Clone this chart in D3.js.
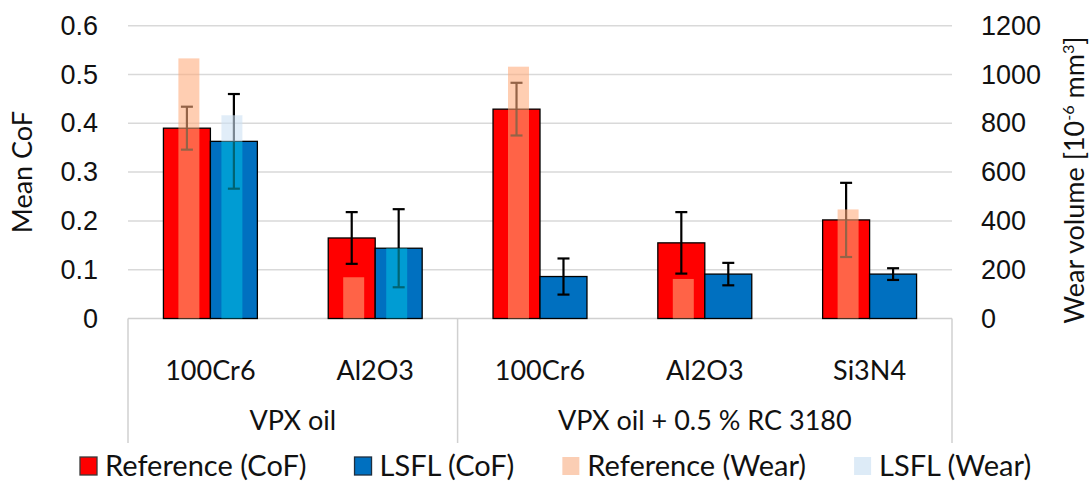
<!doctype html>
<meta charset='utf-8'>
<title>CoF and wear</title>
<style type="text/css">
	body { margin:0; background:#fff; }
	svg { display:block; font-family:Lato, 'Open Sans', sans-serif; }
	.grid line { stroke:#d9d9d9; stroke-width:1.5px; }
	.frame { stroke:#d0d0d0; stroke-width:1.5px; fill:none; }
	text { fill:#111; }
</style>
<div id='chart'></div>
<script src="https://cdnjs.cloudflare.com/ajax/libs/d3/7.8.5/d3.min.js" charset="utf-8"></script>
<script>

	// values
	var groups     = ['VPX oil', 'VPX oil + 0.5 % RC 3180']
	var materials  = ['100Cr6', 'Al2O3', '100Cr6', 'Al2O3', 'Si3N4']
	var groupOf    = [0, 0, 1, 1, 1]
	var refCoF     = [0.390, 0.165, 0.429, 0.155, 0.202]
	var refCoFErr  = [0.044, 0.053, 0.054, 0.063, 0.076]
	var lsflCoF    = [0.363, 0.144, 0.086, 0.091, 0.091]
	var lsflCoFErr = [0.097, 0.080, 0.037, 0.023, 0.012]
	var refWear    = [1066, 169, 1032, 162, 447]
	var lsflWear   = [833, 288, 0, 0, 0]
	var cofTicks   = [0, 0.1, 0.2, 0.3, 0.4, 0.5, 0.6]
	var wearTicks  = [0, 200, 400, 600, 800, 1000, 1200]
	var legendLabels = ['Reference (CoF)', 'LSFL (CoF)', 'Reference (Wear)', 'LSFL (Wear)']

	var W = 1092, H = 491
	var plotL = 128, plotR = 952, plotT = 25.7, plotB = 318.5
	var fs = 27

	var series = ['ref', 'lsfl']
	var cofFill = { ref:'#ff0000', lsfl:'#0070c0' }
	// wear overlay: where it sits over the CoF bar, and where it sticks out above it
	var wearUnder = { ref:'rgba(255,170,122,0.58)', lsfl:'rgba(0,200,230,0.5)' }
	var wearOver  = { ref:'rgba(255,170,122,0.58)', lsfl:'rgba(205,225,243,0.6)' }
	var legendFill = ['#ff0000', '#0070c0', '#fbceb4', '#ddebf7']
	var legendStroke = ['#3a3a3a', '#1f2f3f', 'none', 'none']

	var rows = materials.map(function(m, i) {
		return {
			i: i, material: m,
			cof: { ref: refCoF[i], lsfl: lsflCoF[i] },
			err: { ref: refCoFErr[i], lsfl: lsflCoFErr[i] },
			wear: { ref: refWear[i], lsfl: lsflWear[i] }
		}
	})

	var x = d3.scaleBand().domain(d3.range(materials.length))
		.range([plotL, plotR]).paddingInner(0.43).paddingOuter(0.215)
	var xs = d3.scaleBand().domain(series).range([0, x.bandwidth()])
	var xw = d3.scaleBand().domain(series).range([-32, 32]).paddingInner(0.512)
	var y = d3.scaleLinear().domain([0, 0.6]).range([plotB, plotT])
	var y2 = d3.scaleLinear().domain([0, 1200]).range([plotB, plotT])

	var svg = d3.select('#chart').append('svg')
		.attr('width', W).attr('height', H)

	// grid
	svg.append('g').attr('class', 'grid')
		.selectAll('line').data(cofTicks.slice(1)).enter().append('line')
		.attr('x1', plotL).attr('x2', plotR)
		.attr('y1', function(d) { return y(d) }).attr('y2', function(d) { return y(d) })

	// left axis
	var yAxis = d3.axisLeft(y).tickValues(cofTicks).tickSize(0).tickPadding(0)
		.tickFormat(function(d) { return d === 0 ? '0' : d3.format('.1f')(d) })
	var ga = svg.append('g').attr('transform', 'translate(98,0)').call(yAxis)
	ga.select('.domain').remove()
	ga.selectAll('text').attr('font-size', fs).attr('font-family', null).attr('fill', '#111')

	// right axis
	var y2Axis = d3.axisRight(y2).tickValues(wearTicks).tickSize(0).tickPadding(0)
		.tickFormat(d3.format('d'))
	var gb = svg.append('g').attr('transform', 'translate(981,0)').call(y2Axis)
	gb.select('.domain').remove()
	gb.selectAll('text').attr('font-size', fs).attr('font-family', null).attr('fill', '#111')

	// axis titles
	svg.append('text').attr('transform', 'translate(32,' + (plotT + plotB) / 2 + ') rotate(-90)')
		.attr('text-anchor', 'middle').attr('font-size', fs).text('Mean CoF')
	var t2 = svg.append('text').attr('transform', 'translate(1084,180) rotate(-90)')
		.attr('text-anchor', 'middle').attr('font-size', fs)
	t2.append('tspan').text('Wear volume [10')
	t2.append('tspan').attr('font-size', fs * 0.6).attr('dy', -10).text('-6')
	t2.append('tspan').attr('dy', 10).text(' mm')
	t2.append('tspan').attr('font-size', fs * 0.6).attr('dy', -10).text('3')
	t2.append('tspan').attr('dy', 10).text(']')

	// category frame below the axis
	var frameBottom = 443
	svg.append('line').attr('class', 'frame')
		.attr('x1', plotL).attr('x2', plotR).attr('y1', plotB).attr('y2', plotB)
	var splits = [0]
	groupOf.forEach(function(g, i) { if (i > 0 && g !== groupOf[i - 1]) splits.push(i) })
	splits.push(materials.length)
	var step = x.step()
	svg.append('g').selectAll('line').data(splits).enter().append('line')
		.attr('class', 'frame')
		.attr('x1', function(d) { return plotL + d * step }).attr('x2', function(d) { return plotL + d * step })
		.attr('y1', plotB).attr('y2', frameBottom)

	svg.append('g').selectAll('text').data(materials).enter().append('text')
		.attr('x', function(d, i) { return x(i) + x.bandwidth() / 2 })
		.attr('y', 380).attr('text-anchor', 'middle').attr('font-size', fs)
		.text(function(d) { return d })

	svg.append('g').selectAll('text').data(groups).enter().append('text')
		.attr('x', function(d, g) { return plotL + (splits[g] + splits[g + 1]) / 2 * step })
		.attr('y', 430).attr('text-anchor', 'middle').attr('font-size', fs)
		.text(function(d) { return d })

	// CoF bars
	var cat = svg.append('g').selectAll('g').data(rows).enter().append('g')
		.attr('transform', function(d) { return 'translate(' + x(d.i) + ',0)' })

	cat.selectAll('rect.cof').data(function(d) {
		return series.map(function(s) { return { s: s, v: d.cof[s], e: d.err[s], w: d.wear[s] } })
	}).enter().append('rect').attr('class', 'cof')
		.attr('x', function(d) { return xs(d.s) })
		.attr('width', xs.bandwidth())
		.attr('y', function(d) { return y(d.v) })
		.attr('height', function(d) { return plotB - y(d.v) })
		.attr('fill', function(d) { return cofFill[d.s] })
		.attr('stroke', '#000').attr('stroke-width', 1.3)

	// error bars
	var eb = cat.selectAll('g.err').data(function(d) {
		return series.map(function(s) { return { s: s, v: d.cof[s], e: d.err[s] } })
	}).enter().append('g').attr('class', 'err')
		.attr('transform', function(d) { return 'translate(' + (xs(d.s) + xs.bandwidth() / 2) + ',0)' })
		.attr('stroke', '#000').attr('stroke-width', 2.2)
	eb.append('line').attr('x1', 0).attr('x2', 0)
		.attr('y1', function(d) { return y(d.v + d.e) }).attr('y2', function(d) { return y(d.v - d.e) })
	eb.append('line').attr('x1', -6).attr('x2', 6)
		.attr('y1', function(d) { return y(d.v + d.e) }).attr('y2', function(d) { return y(d.v + d.e) })
	eb.append('line').attr('x1', -6).attr('x2', 6)
		.attr('y1', function(d) { return y(d.v - d.e) }).attr('y2', function(d) { return y(d.v - d.e) })

	// wear bars (secondary axis), drawn over the CoF bars
	var wb = cat.selectAll('g.wear').data(function(d) {
		return series.map(function(s) { return { s: s, v: d.cof[s], w: d.wear[s] } })
	}).enter().append('g').attr('class', 'wear')
		.attr('transform', function(d) { return 'translate(' + (x.bandwidth() / 2 + xw(d.s)) + ',0)' })
	wb.append('rect')
		.attr('width', xw.bandwidth())
		.attr('y', function(d) { return Math.max(y2(d.w), y(d.v)) })
		.attr('height', function(d) { return plotB - Math.max(y2(d.w), y(d.v)) })
		.attr('fill', function(d) { return wearUnder[d.s] })
	wb.append('rect')
		.attr('width', xw.bandwidth())
		.attr('y', function(d) { return y2(d.w) })
		.attr('height', function(d) { return Math.max(0, y(d.v) - y2(d.w)) })
		.attr('fill', function(d) { return wearOver[d.s] })

	// legend
	var lg = svg.append('g').attr('transform', 'translate(0,466)')
	var lx = 80
	legendLabels.forEach(function(lab, i) {
		lg.append('rect').attr('x', lx).attr('y', -9).attr('width', 17).attr('height', 18)
			.attr('fill', legendFill[i]).attr('stroke', legendStroke[i]).attr('stroke-width', 1.3)
		var t = lg.append('text').attr('x', lx + 25).attr('y', 10).attr('font-size', 29).text(lab)
		lx += 25 + t.node().getComputedTextLength() + 48
	})

</script>
